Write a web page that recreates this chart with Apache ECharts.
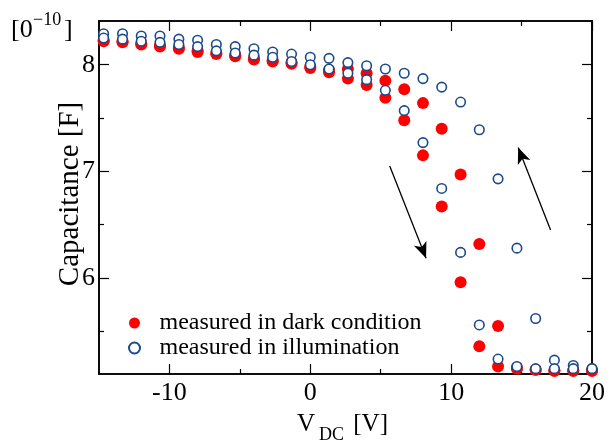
<!DOCTYPE html>
<html>
<head>
<meta charset="utf-8">
<script src="https://cdn.jsdelivr.net/npm/echarts@6/dist/echarts.min.js"></script>
<style>
  html, body { margin: 0; padding: 0; background: #fff; }
  #chart { width: 608px; height: 445px; }
</style>
</head>
<body>
<div id="chart"></div>
<script>
// bias voltage of each measurement column [V]
var voltages = [-14.67, -13.33, -12, -10.67, -9.33, -8, -6.67, -5.33, -4, -2.67, -1.33, 0,
  1.33, 2.67, 4, 5.33, 6.67, 8, 9.33, 10.67, 12, 13.33, 14.67, 16, 17.33, 18.67, 20];

// capacitance [x1e-10 F], two sweeps each
var darkHigh = [8.23, 8.22, 8.20, 8.18, 8.16, 8.13, 8.11, 8.09, 8.06, 8.04, 8.02, 7.98,
  7.95, 7.96, 7.92, 7.85, 7.77, 7.64, 7.40, 6.97, 6.32, 5.55, 5.16, 5.14, 5.13, 5.13, 5.13];
var darkLow = [8.22, 8.21, 8.19, 8.17, 8.15, 8.12, 8.10, 8.08, 8.05, 8.03, 8.01, 7.97,
  7.93, 7.87, 7.81, 7.69, 7.48, 7.15, 6.67, 5.96, 5.36, 5.17, 5.15, 5.14, 5.13, 5.13, 5.13];
var lightHigh = [8.29, 8.29, 8.27, 8.27, 8.24, 8.23, 8.19, 8.17, 8.15, 8.12, 8.10, 8.07,
  8.06, 8.02, 7.99, 7.96, 7.92, 7.87, 7.79, 7.65, 7.39, 6.93, 6.28, 5.62, 5.23, 5.18, 5.15];
var lightLow = [8.25, 8.24, 8.22, 8.21, 8.19, 8.17, 8.13, 8.11, 8.09, 8.07, 8.03, 8.00,
  7.96, 7.92, 7.86, 7.76, 7.57, 7.27, 6.84, 6.24, 5.56, 5.24, 5.17, 5.15, 5.15, 5.15, 5.15];

var xTicks = [-10, 0, 10, 20];
var xMinorTicks = [-5, 5, 15];
var yTicks = [6, 7, 8];
var yMinorTicks = [5.5, 6.5, 7.5];

// sweep-direction arrows, [start, end] in data coords
var arrows = [
  [[5.64, 7.05], [8.22, 6.185]],
  [[17.06, 6.45], [14.76, 7.223]]
];

var FONT = "'Liberation Serif', 'Times New Roman', serif";

function pairs(ys) {
  return voltages.map(function (v, i) { return [v, ys[i]]; });
}

function axisDef(dim, position, ticks, len, labels) {
  var isX = dim == 'x';
  return {
    type: 'value',
    position: position,
    min: isX ? -15 : 5.1,
    max: isX ? 20 : 8.41,
    axisLine: { show: true, onZero: false, lineStyle: { color: '#000', width: 1.6 } },
    axisTick: { show: true, inside: true, length: len, customValues: ticks,
      lineStyle: { color: '#000', width: 1.2 } },
    axisLabel: { show: !!labels, customValues: labels || ticks, margin: isX ? 6 : 4,
      color: '#000', fontFamily: FONT, fontSize: 26 },
    splitLine: { show: false }
  };
}

var chart = echarts.init(document.getElementById('chart'));

chart.setOption({
  animation: false,
  grid: { left: 99, right: 15, top: 21, bottom: 71, containLabel: false },
  xAxis: [
    axisDef('x', 'bottom', xTicks, 10, xTicks),
    axisDef('x', 'bottom', xMinorTicks, 5),
    axisDef('x', 'top', xTicks, 10),
    axisDef('x', 'top', xMinorTicks, 5)
  ],
  yAxis: [
    axisDef('y', 'left', yTicks, 10, yTicks),
    axisDef('y', 'left', yMinorTicks, 5),
    axisDef('y', 'right', yTicks, 10),
    axisDef('y', 'right', yMinorTicks, 5)
  ],
  legend: {
    data: ['measured in dark condition', 'measured in illumination'],
    orient: 'vertical',
    left: 123,
    top: 306,
    icon: 'circle',
    itemWidth: 40,
    itemHeight: 11,
    itemGap: 1,
    selectedMode: false,
    textStyle: { color: '#000', fontFamily: FONT, fontSize: 24 }
  },
  series: [
    {
      name: 'measured in dark condition',
      type: 'scatter',
      symbol: 'circle',
      symbolSize: 12,
      itemStyle: { color: '#ff0000', opacity: 1 },
      data: pairs(darkHigh).concat(pairs(darkLow)),
      markLine: {
        silent: true,
        label: { show: false },
        lineStyle: { color: '#000', width: 1.3, type: 'solid', opacity: 1 },
        data: arrows.map(function (a) {
          return [
            { coord: a[0], symbol: 'none' },
            { coord: a[1], symbol: 'arrow', symbolSize: [10, 16] }
          ];
        })
      }
    },
    {
      name: 'measured in illumination',
      type: 'scatter',
      symbol: 'circle',
      symbolSize: 9.5,
      itemStyle: { color: '#fff', borderColor: '#1a4a8c', borderWidth: 1.6, opacity: 1 },
      data: pairs(lightHigh).concat(pairs(lightLow))
    }
  ],
  graphic: [
    // unit label in the top-left corner
    { type: 'text', left: 11, top: 17, style: { text: '[0', fill: '#000', font: '26px ' + FONT } },
    { type: 'text', left: 33, top: 11, style: { text: '\u221210', fill: '#000', font: '18px ' + FONT } },
    { type: 'text', left: 64, top: 17, style: { text: ']', fill: '#000', font: '26px ' + FONT } },
    // y title
    { type: 'text', x: 70, y: 194, rotation: Math.PI / 2,
      style: { text: 'Capacitance [F]', fill: '#000', font: '29px ' + FONT,
        align: 'center', verticalAlign: 'middle' } },
    // x title with subscript
    { type: 'text', x: 297, y: 424.5,
      style: { text: 'V', fill: '#000', font: '25px ' + FONT, verticalAlign: 'middle' } },
    { type: 'text', x: 319, y: 435,
      style: { text: 'DC', fill: '#000', font: '18px ' + FONT, verticalAlign: 'middle' } },
    { type: 'text', x: 347, y: 424.5,
      style: { text: ' [V]', fill: '#000', font: '25px ' + FONT, verticalAlign: 'middle' } }
  ]
});
</script>
</body>
</html>
